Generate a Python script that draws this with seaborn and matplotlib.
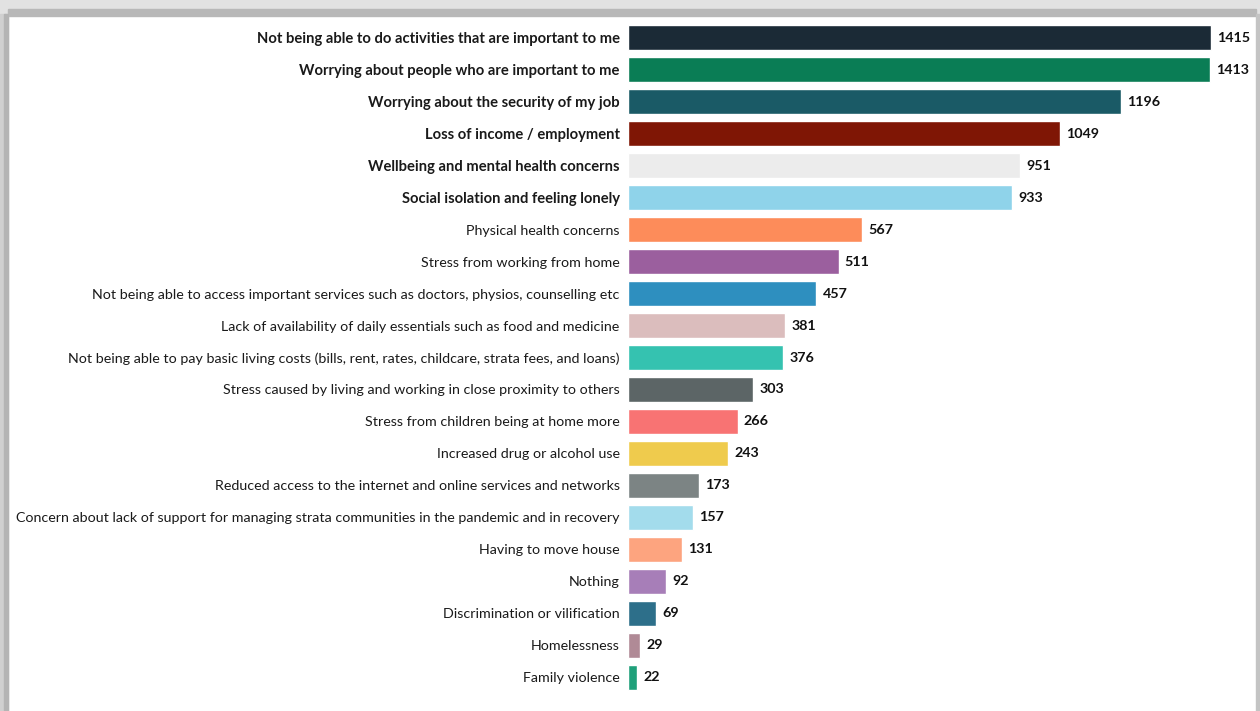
import matplotlib
matplotlib.use("Agg")
import matplotlib.pyplot as plt
import seaborn as sns
import pandas as pd
from matplotlib.patches import Rectangle

categories = [
    "Not being able to do activities that are important to me",
    "Worrying about people who are important to me",
    "Worrying about the security of my job",
    "Loss of income / employment",
    "Wellbeing and mental health concerns",
    "Social isolation and feeling lonely",
    "Physical health concerns",
    "Stress from working from home",
    "Not being able to access important services such as doctors, physios, counselling etc",
    "Lack of availability of daily essentials such as food and medicine",
    "Not being able to pay basic living costs (bills, rent, rates, childcare, strata fees, and loans)",
    "Stress caused by living and working in close proximity to others",
    "Stress from children being at home more",
    "Increased drug or alcohol use",
    "Reduced access to the internet and online services and networks",
    "Concern about lack of support for managing strata communities in the pandemic and in recovery",
    "Having to move house",
    "Nothing",
    "Discrimination or vilification",
    "Homelessness",
    "Family violence",
]
counts = [1415, 1413, 1196, 1049, 951, 933, 567, 511, 457, 381, 376,
          303, 266, 243, 173, 157, 131, 92, 69, 29, 22]
bold_rows = 6

bar_colors = [
    "#1b2a36", "#0a7d55", "#1a5a66", "#7f1605", "#ececec", "#8fd3ea",
    "#fd8c5a", "#9b5f9e", "#2e8fbf", "#dbbdbd", "#35c2b0", "#5c6566",
    "#f87373", "#efcb4d", "#7c8484", "#a3dcec", "#fda47f", "#a77eb8",
    "#2d6f8a", "#b08a96", "#1fa07a",
]

df = pd.DataFrame({"concern": categories, "count": counts})

sns.set_theme(style="white")
plt.rcParams["font.family"] = ["Lato", "DejaVu Sans"]

fig = plt.figure(figsize=(12.6, 7.11), dpi=100)
fig.patch.set_facecolor("white")

# grey frame around the picture
fig.add_artist(Rectangle((0, 697 / 711), 1, 14 / 711, transform=fig.transFigure,
                         color="#e2e2e2", zorder=0))
fig.add_artist(Rectangle((8 / 1260, 695 / 711), 1248 / 1260, 7 / 711, transform=fig.transFigure,
                         color="#b8b8b8", zorder=0))
fig.add_artist(Rectangle((0, 0), 8 / 1260, 697 / 711, transform=fig.transFigure,
                         color="#d0d0d0", zorder=0))
fig.add_artist(Rectangle((4 / 1260, 0), 4 / 1260, 697 / 711, transform=fig.transFigure,
                         color="#b4b4b4", zorder=0))
fig.add_artist(Rectangle((1256 / 1260, 0), 4 / 1260, 697 / 711, transform=fig.transFigure,
                         color="#c4c4c4", zorder=0))

ax = fig.add_axes([628 / 1260, 17.75 / 711, 622 / 1260, 671.5 / 711])
ax.set_facecolor("none")

sns.barplot(data=df, y="concern", x="count", hue="concern", palette=bar_colors,
            legend=False, width=0.78, ax=ax, saturation=1)

ax.set_xlim(0, 1415 * 622 / 583)
for spine in ax.spines.values():
    spine.set_visible(False)
ax.set_xticks([])
ax.set_xlabel("")
ax.set_ylabel("")
ax.tick_params(axis="y", length=0, pad=6)

for i, lab in enumerate(ax.get_yticklabels()):
    lab.set_color("#1a1a1a")
    if i < bold_rows:
        lab.set_fontsize(10.6)
        lab.set_fontweight("bold")
    else:
        lab.set_fontsize(10.3)

for i, v in enumerate(counts):
    ax.annotate(str(v), xy=(v, i), xytext=(4.5, 0), textcoords="offset points",
                va="center", ha="left", fontsize=10.3, fontweight="bold", color="#111111")

fig.savefig("out.png", dpi=100)
